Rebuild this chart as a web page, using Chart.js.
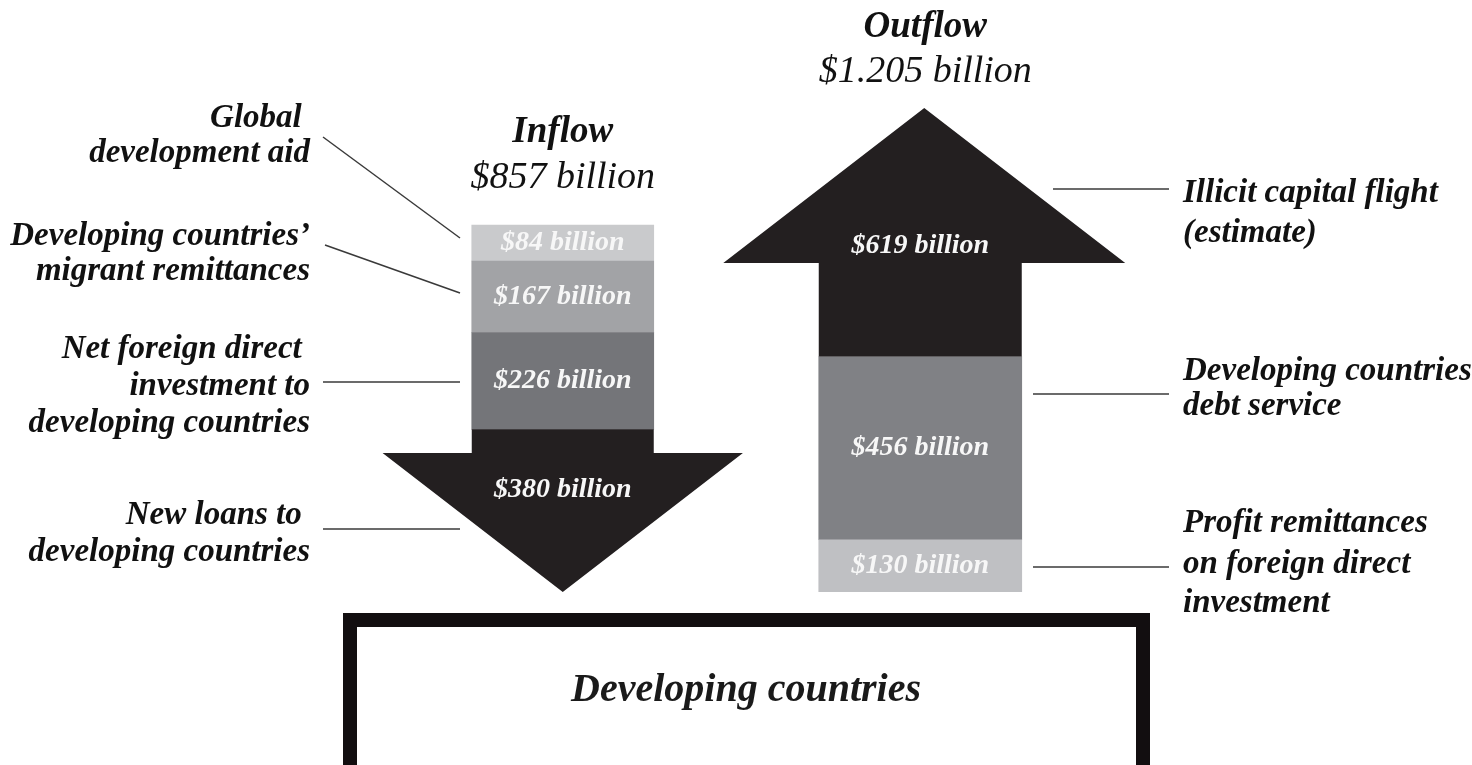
<!DOCTYPE html>
<html>
<head>
<meta charset="utf-8">
<title>Inflow / Outflow</title>
<script src="https://cdn.jsdelivr.net/npm/chart.js@4/dist/chart.umd.min.js"></script>
<style>
  html, body { margin: 0; padding: 0; background: #fff; }
  #wrap { position: relative; width: 1472px; height: 765px; }
</style>
</head>
<body>
<div id="wrap"><canvas id="chart"></canvas></div>
<script>
// columns and their totals
const columns = ['Inflow', 'Outflow'];
const columnTotals = ['$857 billion', '$1.205 billion'];

// segments, listed from bottom to top (billion $)
const inflowValues = [380, 226, 167, 84];
const inflowLabels = [
  ['New loans to ', 'developing countries'],
  ['Net foreign direct ', 'investment to', 'developing countries'],
  ['Developing countries\u2019', 'migrant remittances'],
  ['Global ', 'development aid']
];
const outflowValues = [130, 456, 619];
const outflowLabels = [
  ['Profit remittances', 'on foreign direct', 'investment'],
  ['Developing countries\u2019', 'debt service'],
  ['Illicit capital flight', '(estimate)']
];
const baseLabel = 'Developing countries';

// styling
const inflowColors = ['#231f20', '#747579', '#a2a3a6', '#c9cacc'];
const outflowColors = ['#bfc0c3', '#808185', '#231f20'];
const inflowArrow = 0;   // index of the segment drawn as a down arrow
const outflowArrow = 2;  // index of the segment drawn as an up arrow

// hand placed annotation layout (text baselines, leader lines)
const inflowNotes = [
  { base: [524, 561], line: [323, 529, 460, 529] },
  { base: [358, 395, 432], line: [323, 382, 460, 382] },
  { base: [245, 280], line: [325, 245, 460, 293] },
  { base: [127, 162], line: [323, 137, 460, 238] }
];
const outflowNotes = [
  { base: [532, 573, 612], line: [1033, 567, 1169, 567] },
  { base: [380, 415], line: [1033, 394, 1169, 394] },
  { base: [202, 242], line: [1053, 189, 1169, 189] }
];
const titleBase = [[142, 188], [37, 82]];

const FONT = '"Liberation Serif"';

const datasets = [];
inflowValues.forEach((v, i) => {
  datasets.push({
    label: inflowLabels[i].join(' '),
    data: [v, null],
    stack: 'in',
    yAxisID: 'y',
    barThickness: 182,
    backgroundColor: i === inflowArrow ? 'rgba(0,0,0,0)' : inflowColors[i],
    arrowColor: inflowColors[i],
    arrow: i === inflowArrow ? 'down' : null,
    note: inflowNotes[i],
    side: 'left',
    lines: inflowLabels[i]
  });
});
outflowValues.forEach((v, i) => {
  datasets.push({
    label: outflowLabels[i].join(' '),
    data: [null, v],
    stack: 'out',
    yAxisID: 'y2',
    barThickness: 203,
    backgroundColor: i === outflowArrow ? 'rgba(0,0,0,0)' : outflowColors[i],
    arrowColor: outflowColors[i],
    arrow: i === outflowArrow ? 'up' : null,
    note: outflowNotes[i],
    side: 'right',
    lines: outflowLabels[i]
  });
});

const flowPlugin = {
  id: 'flow',
  afterDatasetsDraw(chart) {
    const ctx = chart.ctx;
    ctx.save();
    chart.data.datasets.forEach((ds, i) => {
      const meta = chart.getDatasetMeta(i);
      meta.data.forEach((bar, j) => {
        const v = ds.data[j];
        if (v == null) return;
        const p = bar.getProps(['x', 'y', 'base', 'width'], true);
        const half = p.width / 2;
        const headH = p.width * 0.764;
        const headW = p.width * 0.99;
        let ty = (p.y + p.base) / 2;
        if (ds.arrow === 'down') {
          const hb = p.base - headH;
          ctx.fillStyle = ds.arrowColor;
          ctx.beginPath();
          ctx.moveTo(p.x - half, p.y);
          ctx.lineTo(p.x + half, p.y);
          ctx.lineTo(p.x + half, hb);
          ctx.lineTo(p.x + headW, hb);
          ctx.lineTo(p.x, p.base);
          ctx.lineTo(p.x - headW, hb);
          ctx.lineTo(p.x - half, hb);
          ctx.closePath();
          ctx.fill();
          ty = p.y + (p.base - p.y) * 0.37;
        } else if (ds.arrow === 'up') {
          const hb = p.y + headH;
          const hx = p.x + 4; // head sits slightly right of the shaft in the original
          ctx.fillStyle = ds.arrowColor;
          ctx.beginPath();
          ctx.moveTo(p.x - half, p.base);
          ctx.lineTo(p.x - half, hb);
          ctx.lineTo(hx - headW, hb);
          ctx.lineTo(hx, p.y);
          ctx.lineTo(hx + headW, hb);
          ctx.lineTo(p.x + half, hb);
          ctx.lineTo(p.x + half, p.base);
          ctx.closePath();
          ctx.fill();
          ty = p.y + (p.base - p.y) * 0.555;
        }
        // value label
        ctx.fillStyle = '#f7f7f7';
        ctx.font = 'italic bold 28px ' + FONT;
        ctx.textAlign = 'center';
        ctx.textBaseline = 'middle';
        ctx.fillText('$' + v + ' billion', p.x, ty);
      });
    });
    ctx.restore();
  },
  afterDraw(chart) {
    const ctx = chart.ctx;
    ctx.save();
    // leader lines and side labels
    chart.data.datasets.forEach(ds => {
      const n = ds.note;
      ctx.strokeStyle = '#3a3a3a';
      ctx.lineWidth = 1.5;
      ctx.beginPath();
      ctx.moveTo(n.line[0], n.line[1]);
      ctx.lineTo(n.line[2], n.line[3]);
      ctx.stroke();
      ctx.fillStyle = '#111';
      ctx.font = 'italic bold 33px ' + FONT;
      ctx.textBaseline = 'alphabetic';
      ctx.textAlign = ds.side === 'left' ? 'right' : 'left';
      const tx = ds.side === 'left' ? 310 : 1183;
      ds.lines.forEach((t, k) => ctx.fillText(t, tx, n.base[k]));
    });
    // column titles
    const xs = chart.scales.x;
    columns.forEach((c, i) => {
      const cx = xs.getPixelForValue(i) + (i === 1 ? 5 : 0);
      ctx.fillStyle = '#111';
      ctx.textAlign = 'center';
      ctx.textBaseline = 'alphabetic';
      ctx.font = 'italic bold 37px ' + FONT;
      ctx.fillText(c, cx, titleBase[i][0]);
      ctx.font = 'italic 38px ' + FONT;
      ctx.fillText(columnTotals[i], cx, titleBase[i][1]);
    });
    // receiving box
    ctx.strokeStyle = '#120e10';
    ctx.lineWidth = 14;
    ctx.strokeRect(350, 620, 793, 170);
    ctx.fillStyle = '#1a1a1a';
    ctx.font = 'italic bold 40px ' + FONT;
    ctx.textAlign = 'center';
    ctx.fillText(baseLabel, 746, 701);
    ctx.restore();
  }
};

new Chart(document.getElementById('chart'), {
  type: 'bar',
  data: { labels: columns, datasets: datasets },
  options: {
    responsive: true,
    maintainAspectRatio: false,
    animation: false,
    grouped: false,
    layout: { padding: { left: 384, right: 373, top: 20, bottom: 173 } },
    plugins: { legend: { display: false }, tooltip: { enabled: false } },
    scales: {
      x: { display: false, stacked: true },
      y: { display: false, stacked: true, min: 0, max: 1336 },
      y2: { display: false, stacked: true, min: 0, max: 1424 }
    }
  },
  plugins: [flowPlugin]
});
</script>
</body>
</html>
